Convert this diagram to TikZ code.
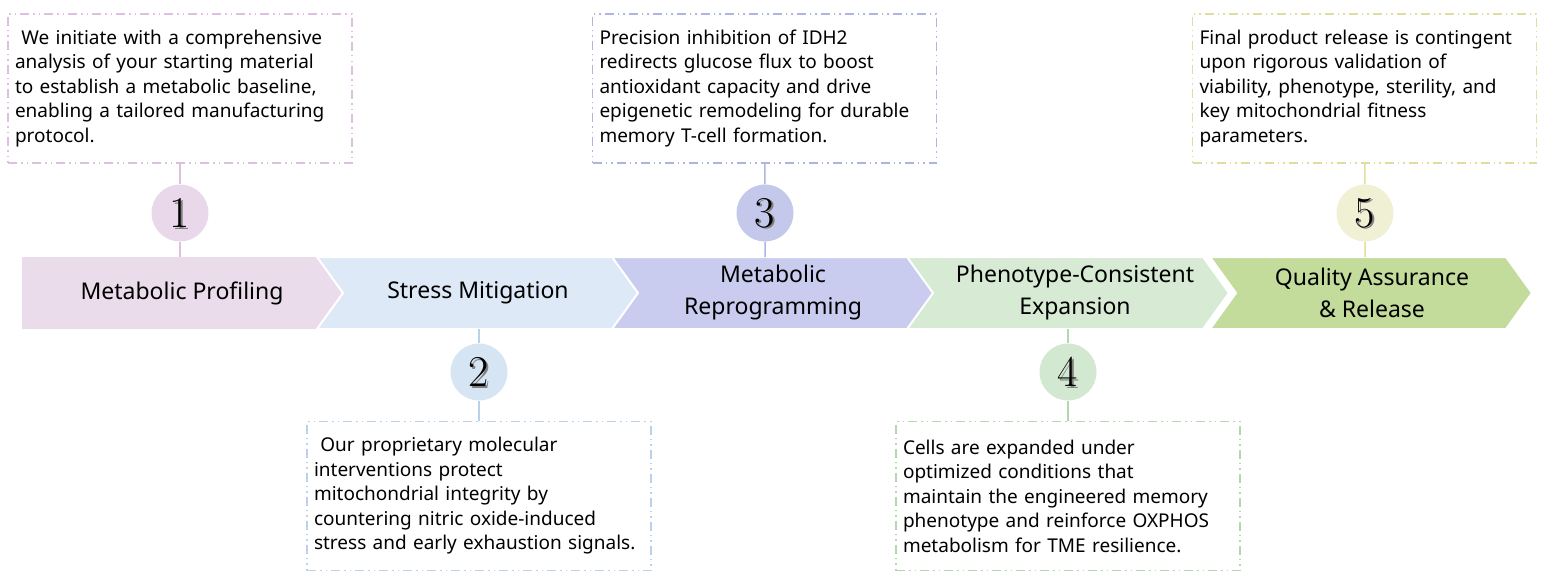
\documentclass[tikz,border=0pt]{standalone}
\usepackage{fontspec}
\setmainfont{Noto Sans}
\usetikzlibrary{positioning}
\definecolor{pinkA}{HTML}{EBDCEC}\definecolor{pinkB}{HTML}{E9D8EA}\definecolor{pinkL}{HTML}{DDBFDF}
\definecolor{blueA}{HTML}{DDE9F6}\definecolor{blueB}{HTML}{D6E5F4}\definecolor{blueL}{HTML}{B9D1EC}
\definecolor{purpA}{HTML}{C9CCEE}\definecolor{purpB}{HTML}{C4C9EC}\definecolor{purpL}{HTML}{AEB5E3}
\definecolor{greenA}{HTML}{D6EAD4}\definecolor{greenB}{HTML}{D3E8D1}\definecolor{greenL}{HTML}{B3D7AE}
\definecolor{limeA}{HTML}{C3DB9B}\definecolor{limeB}{HTML}{F0F1D4}\definecolor{limeL}{HTML}{E0DE9E}
\tikzset{
  note/.style={draw=#1, line width=1.2pt, dash pattern=on 9pt off 4pt on 1.5pt off 4pt on 1.5pt off 4pt,
    minimum width=344pt, minimum height=149pt, text width=330pt, align=left, font=\fontsize{19}{24.5}\selectfont},
  step/.style={circle, fill=#1, minimum size=57pt, inner sep=0pt},
  title/.style={align=center, font=\fontsize{23}{32}\selectfont\bfseries}
}
\newcommand{\chev}[2]{%
  \fill[#2, draw=white, line width=2pt] (#1,257) -- ++(296,0) -- ++(26,36) -- ++(-26,36) -- ++(-296,0) -- ++(26,-36) -- cycle;}
\newcommand{\numtxt}[1]{\fontfamily{lmr}\fontsize{44}{44}\selectfont
  \tikz[baseline,overlay]{\node[gray,inner sep=0pt] at (1.2pt,-1.5pt) {#1}; \node[inner sep=0pt] at (0,0) {#1};}}
\begin{document}
\begin{tikzpicture}[x=1pt,y=-1pt]
\useasboundingbox (0,0) rectangle (1550,586);
% banner
\fill[pinkA] (22,257) -- ++(296,0) -- ++(26,36) -- ++(-26,36) -- ++(-296,0) -- cycle;
\chev{317}{blueA}
\chev{612}{purpA}
\chev{907}{greenA}
\chev{1210}{limeA}
\node[title] (t1) at (182,293) {Metabolic Profiling};
\node[title] (t2) at (478,293) {Stress Mitigation};
\node[title] (t3) at (773,293) {Metabolic\\Reprogramming};
\node[title] (t4) at (1075,293) {Phenotype-Consistent\\Expansion};
\node[title] (t5) at (1372,293) {Quality Assurance\\\& Release};
% notes
\node[note=pinkL] (n1) at (180,88.5) {\ We initiate with a comprehensive\\analysis of your starting material\\to establish a metabolic baseline,\\enabling a tailored manufacturing\\protocol.};
\node[note=blueL] (n2) at (479,496) {\ Our proprietary molecular\\interventions protect\\mitochondrial integrity by\\countering nitric oxide-induced\\stress and early exhaustion signals.};
\node[note=purpL] (n3) at (764.5,88.5) {Precision inhibition of IDH2\\redirects glucose flux to boost\\antioxidant capacity and drive\\epigenetic remodeling for durable\\memory T-cell formation.};
\node[note=greenL] (n4) at (1068,496) {Cells are expanded under\\optimized conditions that\\maintain the engineered memory\\phenotype and reinforce OXPHOS\\metabolism for TME resilience.};
\node[note=limeL] (n5) at (1364.5,88.5) {Final product release is contingent\\upon rigorous validation of\\viability, phenotype, sterility, and\\key mitochondrial fitness\\parameters.};
% numbers
\node[step=pinkB] (s1) at (180,213) {\numtxt{1}};
\node[step=blueB] (s2) at (479,372) {\numtxt{2}};
\node[step=purpB] (s3) at (765,213) {\numtxt{3}};
\node[step=greenB] (s4) at (1068,372) {\numtxt{4}};
\node[step=limeB] (s5) at (1365,213) {\numtxt{5}};
\coordinate (b1) at (180,257); \coordinate (b3) at (765,257); \coordinate (b5) at (1365,257);
\coordinate (b2) at (479,329); \coordinate (b4) at (1068,329);
\draw[pinkL, line width=1.5pt] (n1) -- (s1) (s1) -- (b1);
\draw[blueL, line width=1.5pt] (n2) -- (s2) (s2) -- (b2);
\draw[purpL, line width=1.5pt] (n3) -- (s3) (s3) -- (b3);
\draw[greenL, line width=1.5pt] (n4) -- (s4) (s4) -- (b4);
\draw[limeL, line width=1.5pt] (n5) -- (s5) (s5) -- (b5);
\end{tikzpicture}
\end{document}
